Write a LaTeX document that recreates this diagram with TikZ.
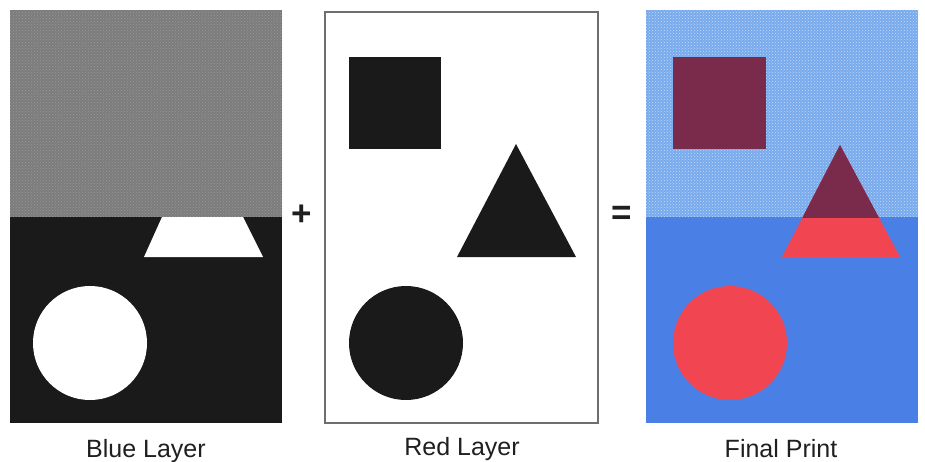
\documentclass[tikz,border=0pt]{standalone}
\usepackage{fontspec}
\setmainfont{Liberation Sans}
\usetikzlibrary{patterns}
\definecolor{layergray}{HTML}{7C7C7C}
\definecolor{layerblack}{HTML}{1A1A1A}
\definecolor{lightblue}{HTML}{78AAEE}
\definecolor{midblue}{HTML}{4A80E6}
\definecolor{printred}{HTML}{F24552}
\definecolor{maroon}{HTML}{7A2B4C}
\definecolor{framegray}{HTML}{6E6E6E}
\tikzset{
  caption/.style={font=\fontsize{25}{28}\selectfont, text=black!88, inner sep=0pt, anchor=base},
  opsign/.style={font=\bfseries\fontsize{35}{36}\selectfont, text=black!88, inner sep=0pt},
}
\begin{document}
\begin{tikzpicture}[x=1pt,y=-1pt]
\useasboundingbox (0,0) rectangle (925,461);
\fill[white] (0,0) rectangle (925,461);
% ---- Blue layer
\fill[layergray] (10,10) rectangle (282,217);
\fill[pattern=crosshatch dots, pattern color=black!40] (10,10) rectangle (282,217);
\fill[layerblack] (10,217) rectangle (282,423);
\fill[white] (162,217) -- (243,217) -- (263,257) -- (144,257) -- cycle;
\fill[white] (90,343) circle (57);
% ---- Red layer
\draw[framegray, line width=1.5pt, fill=white] (325,12) rectangle (598,423);
\fill[layerblack] (349,57) rectangle (441,149);
\fill[layerblack] (516,144) -- (576,257) -- (457,257) -- cycle;
\fill[layerblack] (406,343) circle (57);
% ---- Final print
\fill[lightblue] (646,10) rectangle (918,217);
\fill[pattern=crosshatch dots, pattern color=white!55!lightblue] (646,10) rectangle (918,217);
\fill[midblue] (646,217) rectangle (918,423);
\fill[maroon] (673,57) rectangle (766,149);
\fill[printred] (782,257) -- (900,257) -- (840,145) -- cycle;
\begin{scope}
  \clip (646,10) rectangle (918,217);
  \fill[maroon] (782,257) -- (900,257) -- (840,145) -- cycle;
\end{scope}
\fill[printred] (730,343) circle (57);
% ---- signs and captions
\node[opsign] (plus) at (302,215) {+};
\node[opsign] (equals) at (622,215) {=};
\node[caption] (bluecap) at (146,457) {Blue Layer};
\node[caption] (redcap) at (462,455) {Red Layer};
\node[caption] (finalcap) at (781,457) {Final Print};
\end{tikzpicture}
\end{document}
